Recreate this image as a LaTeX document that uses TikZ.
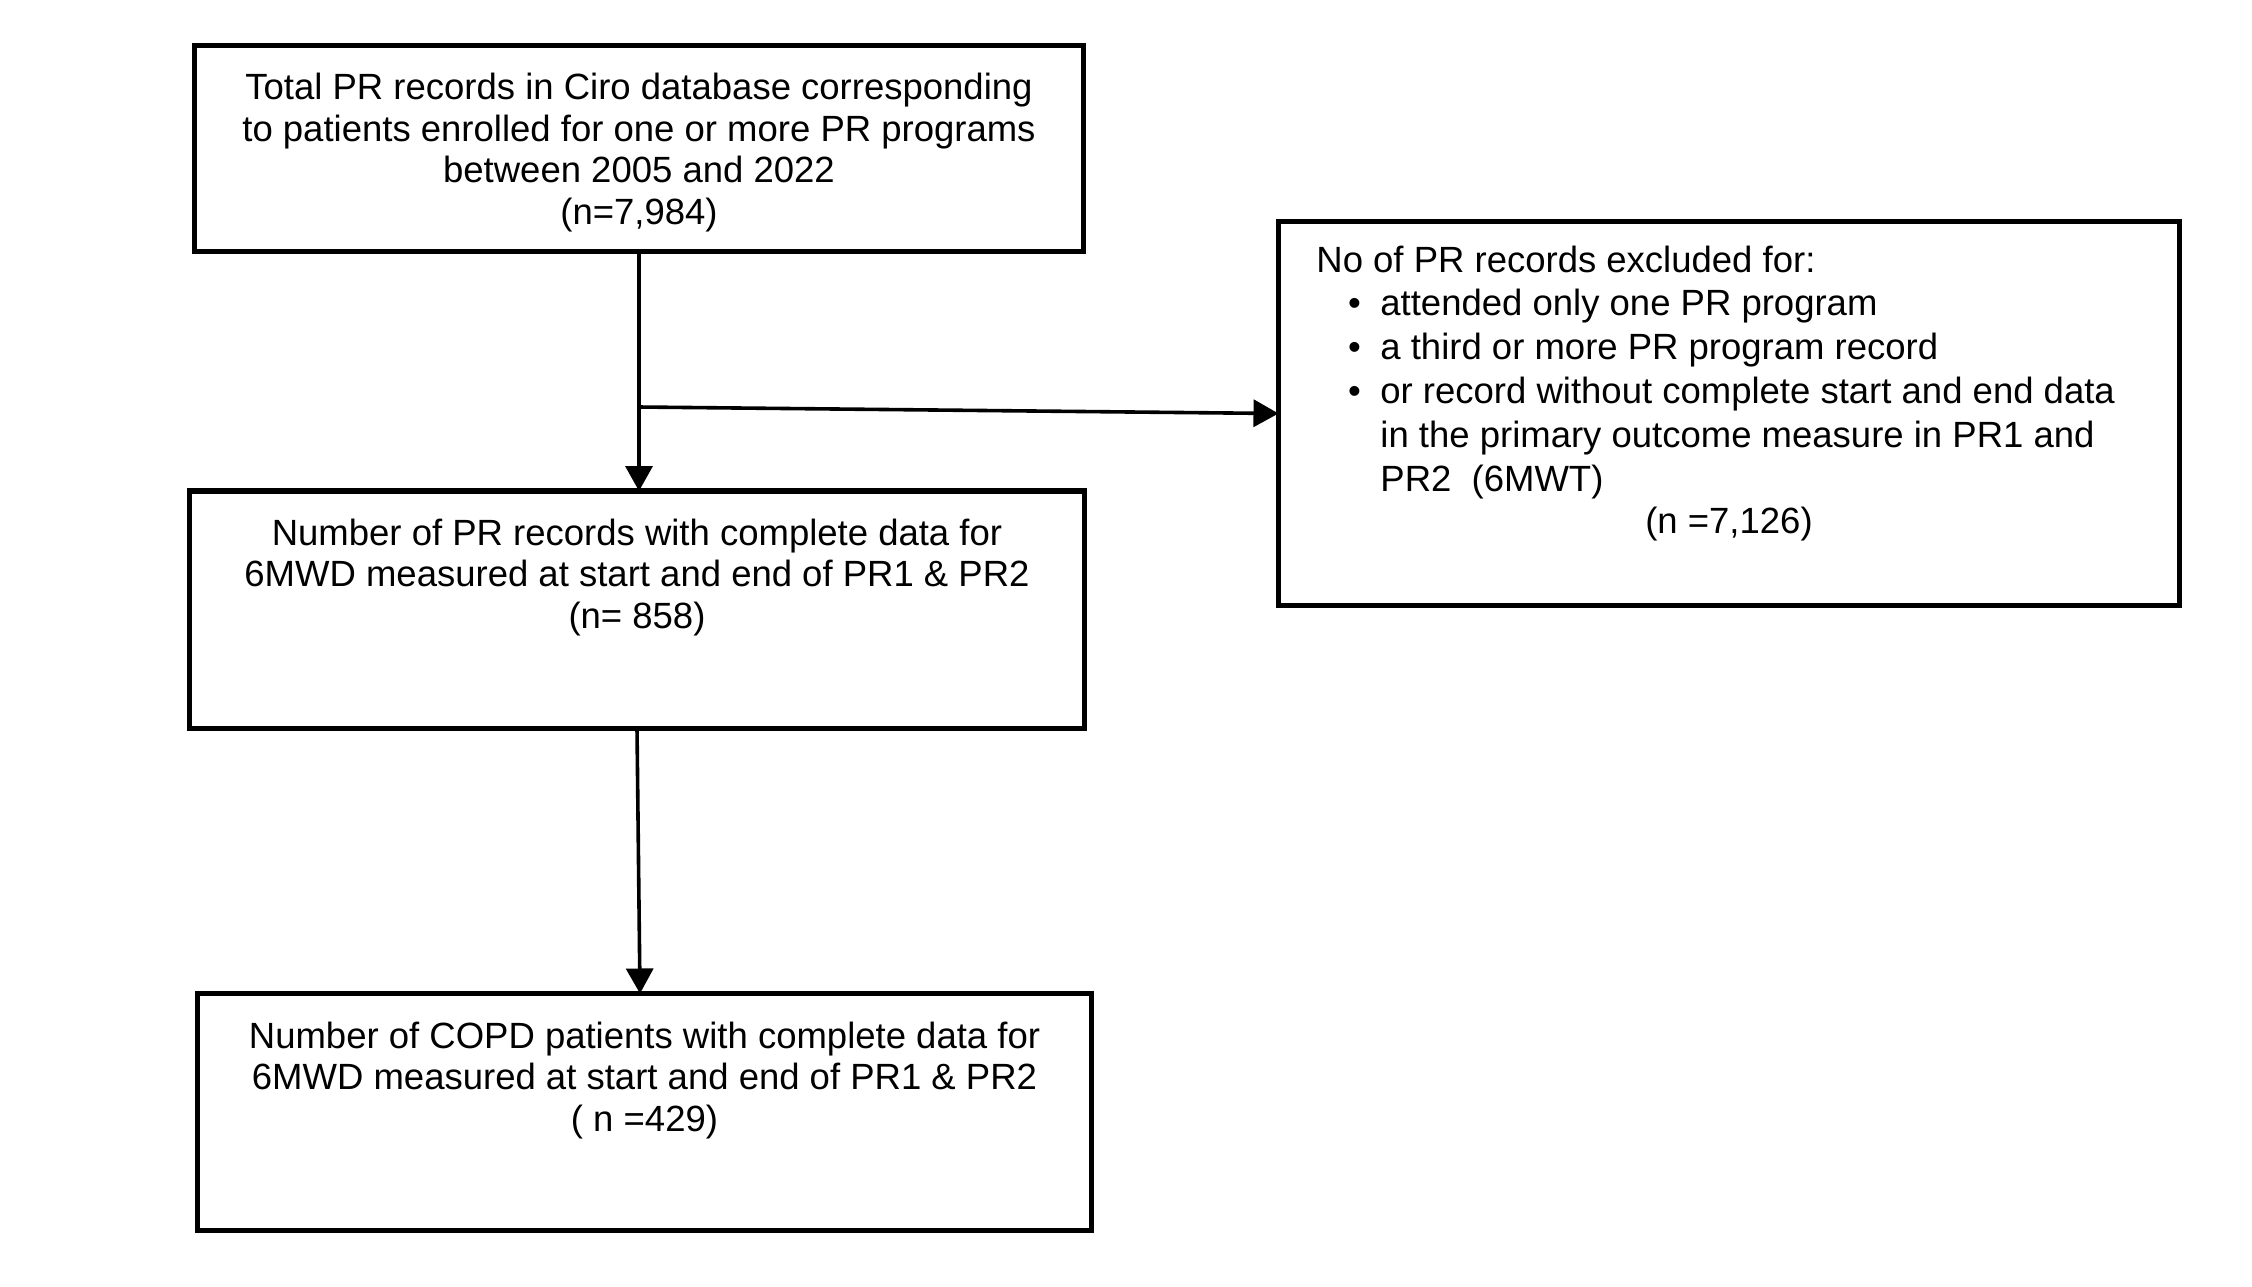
\documentclass[tikz,border=0pt]{standalone}
\usepackage{fontspec}
\setmainfont{Liberation Sans}
\usetikzlibrary{arrows.meta}
\tikzset{
  box/.style={draw, line width=2.8pt, rectangle, inner sep=0pt, outer sep=0pt},
  txt/.style={anchor=base, inner sep=0pt, font=\fontsize{18.25}{20.75}\selectfont},
  rtxt/.style={anchor=base west, inner sep=0pt, font=\fontsize{18.25}{21.9}\selectfont},
  arr/.style={line width=1.8pt, -{Triangle[length=12.5pt, width=13.5pt]}},
}
\newcommand{\bul}{\makebox[32pt][l]{\hspace{15.8pt}\textbullet}}
\begin{document}
\begin{tikzpicture}[x=0.5pt, y=-0.5pt]
\useasboundingbox (0,0) rectangle (2252,1286);
% boxes
\node[box, minimum width=444.5pt, minimum height=103pt] (b1) at (639,148.5) {};
\node[box, minimum width=447.5pt, minimum height=118.75pt] (b2) at (637,609.75) {};
\node[box, minimum width=447pt, minimum height=118.5pt] (b3) at (644.5,1112) {};
\node[box, minimum width=450.5pt, minimum height=192pt] (ex) at (1729,413.5) {};
% texts
\node[txt] (t1) at (639,99.5) {\begin{tabular}[t]{@{}c@{}}Total PR records in Ciro database corresponding\\ to patients enrolled for one or more PR programs\\ between 2005 and 2022\\ (n=7,984)\end{tabular}};
\node[txt] (t2) at (637,545) {\begin{tabular}[t]{@{}c@{}}Number of PR records with complete data for\\ 6MWD measured at start and end of PR1 \& PR2\\ (n= 858)\end{tabular}};
\node[txt] (t3) at (644.5,1048) {\begin{tabular}[t]{@{}c@{}}Number of COPD patients with complete data for\\ 6MWD measured at start and end of PR1 \& PR2\\ ( n =429)\end{tabular}};
\node[rtxt] (t4) at (1316,272) {\begin{tabular}[t]{@{}l@{}}No of PR records excluded for:\\ \bul attended only one PR program\\ \bul a third or more PR program record\\ \bul or record without complete start and end data\\ \hspace{32pt}in the primary outcome measure in PR1 and\\ \hspace{32pt}PR2\ \ (6MWT)\end{tabular}};
\node[txt] (t5) at (1729,533) {(n =7,126)};
% connectors
\coordinate (j) at (639,407);
\draw[arr] (b1.south) -- (b1.south |- b2.north);
\draw[arr] (j) -- (ex.west);
\draw[arr] (b2.south) -- ([xshift=1.5pt]b2.south |- b3.north);
\end{tikzpicture}
\end{document}
